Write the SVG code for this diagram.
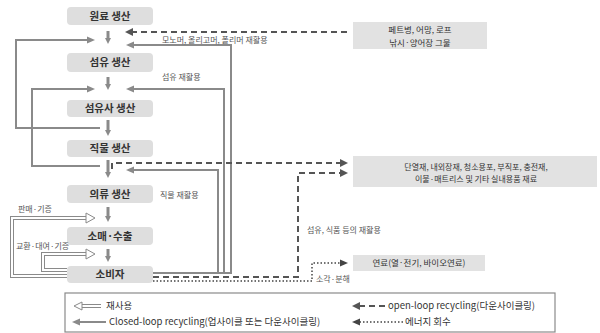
<svg xmlns="http://www.w3.org/2000/svg" width="600" height="333" viewBox="0 0 600 333">
<style>
text{font-family:"Noto Sans CJK KR","Noto Sans",sans-serif;}
.node rect{fill:#dedede;}
.node text{font-size:10.5px;font-weight:bold;fill:#333;text-anchor:middle;}
.box rect{fill:#e2e2e2;}
.box text{font-size:8.5px;fill:#333;text-anchor:middle;}
.lbl{font-size:8px;fill:#555;}
.leg{font-size:9.5px;fill:#333;}
.down{stroke:#8a8a8a;stroke-width:3;fill:none;}
.closed{stroke:#8a8a8a;stroke-width:2;fill:none;}
.open{stroke:#555;stroke-width:2;stroke-dasharray:6 4;fill:none;}
.dot{stroke:#444;stroke-width:1.5;stroke-dasharray:1.5 2;fill:none;}
.hollowO{stroke:#8a8a8a;stroke-width:4;fill:none;}
.hollowI{stroke:#fff;stroke-width:2;fill:none;}
.hhead{fill:#fff;stroke:#8a8a8a;stroke-width:1;}
</style>
<defs>
<marker id="mc" markerUnits="userSpaceOnUse" markerWidth="10" markerHeight="10" refX="0" refY="5" orient="auto"><path d="M0,1.5 L8,5 L0,8.5 Z" fill="#8a8a8a"/></marker>
<marker id="md" markerUnits="userSpaceOnUse" markerWidth="10" markerHeight="10" refX="0" refY="5" orient="auto"><path d="M0,2 L6,5 L0,8 Z" fill="#8a8a8a"/></marker>
<marker id="mo" markerUnits="userSpaceOnUse" markerWidth="10" markerHeight="10" refX="0" refY="5" orient="auto"><path d="M0,1 L8,5 L0,9 Z" fill="#555"/></marker>
<marker id="mt" markerUnits="userSpaceOnUse" markerWidth="10" markerHeight="10" refX="0" refY="5" orient="auto"><path d="M0,1.5 L8,5 L0,8.5 Z" fill="#444"/></marker>
</defs>
<rect width="600" height="333" fill="#fff"/>

<g id="connectors">
  <path class="down" d="M108,31 V38" marker-end="url(#md)"/>
  <path class="down" d="M108,77 V84" marker-end="url(#md)"/>
  <path class="down" d="M108,120 V130" marker-end="url(#md)"/>
  <path class="down" d="M108,160 V172" marker-end="url(#md)"/>
  <path class="down" d="M108,207 V216" marker-end="url(#md)"/>
  <path class="down" d="M108,249 V256" marker-end="url(#md)"/>
  <path class="closed" d="M153,273 H231 V45 H134" marker-end="url(#mc)"/>
  <path class="closed" d="M153,273 H224 V89 H134" marker-end="url(#mc)"/>
  <path class="closed" d="M153,273 H218 V170 H134" marker-end="url(#mc)"/>
  <path class="closed" d="M100,128 H16 V40 H87" marker-end="url(#mc)"/>
  <path class="closed" d="M100,166 H32 V89 H87" marker-end="url(#mc)"/>
  <path class="hollowO" d="M67,276 H12 V218 H86"/>
  <path class="hollowI" d="M67,276 H12 V218 H87"/>
  <path class="hhead" d="M86,213 L95,218 L86,223 Z"/>
  <path class="hollowO" d="M67,270 H43 V254 H86"/>
  <path class="hollowI" d="M67,270 H43 V254 H87"/>
  <path class="hhead" d="M86,249 L95,254 L86,259 Z"/>
  <path class="open" d="M347,32 H133" marker-end="url(#mo)"/>
  <path class="open" d="M112,169 V163 H340" marker-end="url(#mo)"/>
  <path class="open" d="M153,277 H298 V173 H340" marker-end="url(#mo)"/>
  <path class="dot" d="M153,281 H312 V263 H340" marker-end="url(#mt)"/>
</g>

<g id="n1" class="node"><rect x="67" y="7" width="86" height="18" rx="4"/><text x="110" y="20">원료 생산</text></g>
<g id="n2" class="node"><rect x="67" y="53" width="86" height="19" rx="4"/><text x="110" y="66">섬유 생산</text></g>
<g id="n3" class="node"><rect x="67" y="100" width="86" height="17" rx="4"/><text x="110" y="112">섬유사 생산</text></g>
<g id="n4" class="node"><rect x="67" y="140" width="86" height="17" rx="4"/><text x="110" y="152">직물 생산</text></g>
<g id="n5" class="node"><rect x="67" y="185" width="86" height="18" rx="4"/><text x="110" y="198">의류 생산</text></g>
<g id="n6" class="node"><rect x="67" y="227" width="86" height="18" rx="4"/><text x="110" y="240">소매·수출</text></g>
<g id="n7" class="node"><rect x="67" y="266" width="86" height="17" rx="4"/><text x="110" y="278">소비자</text></g>

<g id="b1" class="box"><rect x="353" y="22" width="134" height="27"/><text x="420" y="33">페트병, 어망, 로프</text><text x="420" y="46">낚시·양어장 그물</text></g>
<g id="b2" class="box"><rect x="353" y="156" width="244" height="31"/><text x="476" y="170" style="font-size:8px">단열재, 내외장재, 청소용포, 부직포, 충전재,</text><text x="476" y="182" style="font-size:8px">이불·매트리스 및 기타 실내용품 재료</text></g>
<g id="b3" class="box"><rect x="353" y="255" width="132" height="16"/><text x="419" y="266">연료(열·전기, 바이오연료)</text></g>

<g id="labels">
  <text class="lbl" x="162" y="43">모노머, 올리고머, 폴리머 재활용</text>
  <text class="lbl" x="162" y="80">섬유 재활용</text>
  <text class="lbl" x="160" y="198">직물 재활용</text>
  <text class="lbl" x="307" y="233">섬유, 식품 등의 재활용</text>
  <text class="lbl" x="316" y="282">소각·분해</text>
  <text class="lbl" x="18" y="212">판매·기증</text>
  <text class="lbl" x="16" y="249">교환·대여·기증</text>
</g>

<g id="legend">
  <rect x="65" y="293" width="490" height="39" fill="none" stroke="#8a8a8a" stroke-width="1.2"/>
  <path class="hollowO" d="M101,306 H81"/>
  <path class="hollowI" d="M102,306 H80"/>
  <path class="hhead" d="M82,302 L74,306 L82,310 Z"/>
  <text class="leg" x="106" y="309">재사용</text>
  <path class="closed" d="M106,322 H80" marker-end="url(#mc)"/>
  <text class="leg" x="109" y="325">Closed-loop recycling(업사이클 또는 다운사이클링)</text>
  <path class="open" d="M385,306 H360" stroke-dasharray="5 3" marker-end="url(#mo)"/>
  <text class="leg" x="388" y="309">open-loop recycling(다운사이클링)</text>
  <path class="dot" d="M403,322 H360" marker-end="url(#mt)"/>
  <text class="leg" x="405" y="325">에너지 회수</text>
</g>
</svg>
